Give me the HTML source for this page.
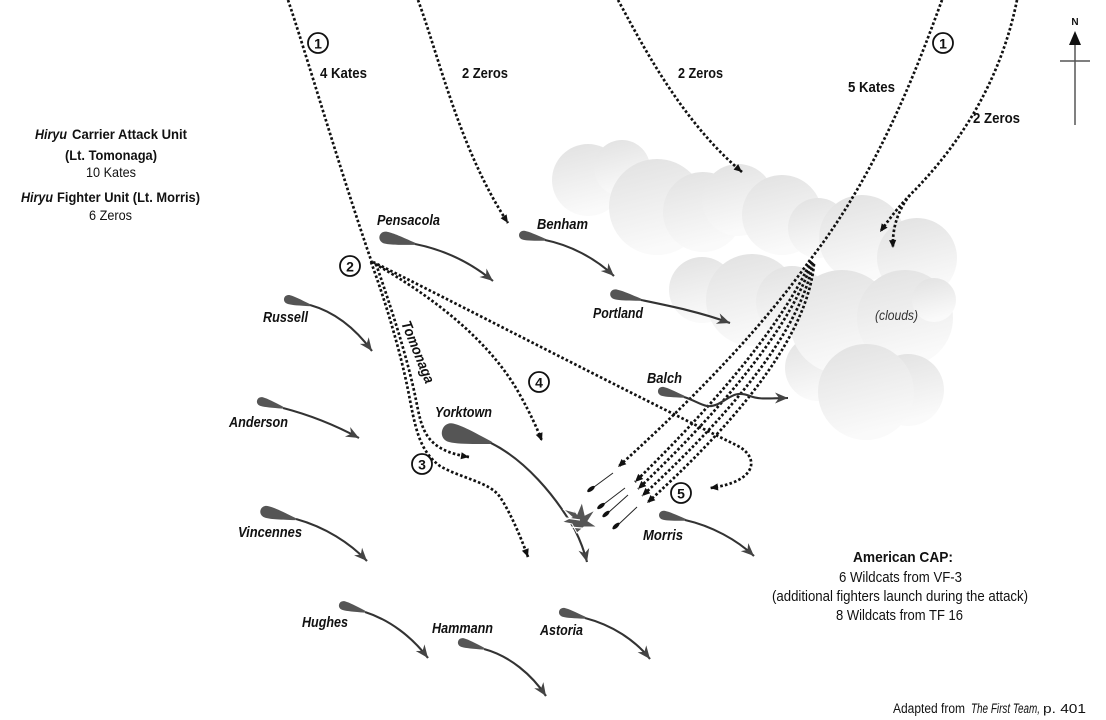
<!DOCTYPE html>
<html><head><meta charset="utf-8"><style>
html,body{margin:0;padding:0;background:#fff;}
svg{display:block;}
text{font-family:"Liberation Sans Narrow","Liberation Sans",sans-serif;fill:#111;}
.b{font-weight:bold;}
.bi{font-weight:bold;font-style:italic;}
.dot{fill:none;stroke:#111;stroke-width:2.7;stroke-dasharray:2.6 2.2;}
.sl{fill:none;stroke:#333;stroke-width:2.1;}
.hull{fill:#555;}
.cl{fill:url(#cg);}
</style></head><body>
<svg width="1106" height="720" viewBox="0 0 1106 720" xmlns="http://www.w3.org/2000/svg">
<defs>
<linearGradient id="cg" x1="0" y1="0" x2="0.25" y2="1"><stop offset="0" stop-color="#e1e1e1"/><stop offset="0.6" stop-color="#f0f0f0"/><stop offset="1" stop-color="#fafafa"/></linearGradient>
<marker id="ad" markerUnits="userSpaceOnUse" markerWidth="10" markerHeight="9" viewBox="-9 -4.5 10 9" refX="0" refY="0" orient="auto"><path d="M0,0 L-8,-3.6 L-8,3.6 Z" fill="#111"/></marker>
<marker id="as" markerUnits="userSpaceOnUse" markerWidth="15" markerHeight="13" viewBox="-14 -6.5 15 13" refX="0" refY="0" orient="auto"><path d="M0,0 L-13,-5.5 L-9,0 L-13,5.5 Z" fill="#444"/></marker>
</defs>

<!-- clouds -->
<g>
<circle class="cl" cx="588" cy="180" r="36"/>
<circle class="cl" cx="622" cy="168" r="28"/>
<circle class="cl" cx="657" cy="207" r="48"/>
<circle class="cl" cx="703" cy="212" r="40"/>
<circle class="cl" cx="738" cy="200" r="36"/>
<circle class="cl" cx="782" cy="215" r="40"/>
<circle class="cl" cx="818" cy="228" r="30"/>
<circle class="cl" cx="702" cy="290" r="33"/>
<circle class="cl" cx="752" cy="300" r="46"/>
<circle class="cl" cx="792" cy="302" r="36"/>
<circle class="cl" cx="862" cy="238" r="43"/>
<circle class="cl" cx="917" cy="258" r="40"/>
<circle class="cl" cx="818" cy="368" r="33"/>
<circle class="cl" cx="842" cy="322" r="52"/>
<circle class="cl" cx="905" cy="318" r="48"/>
<circle class="cl" cx="934" cy="300" r="22"/>
<circle class="cl" cx="908" cy="390" r="36"/>
<circle class="cl" cx="866" cy="392" r="48"/>
</g>

<!-- dotted attack paths -->
<path class="dot" d="M288,0 C305,50 340,170 372,263"/>
<path class="dot" d="M371,262 C385,300 400,350 408,390 C415,425 418,450 440,466 C460,478 490,482 500,497 C510,512 520,535 528,557" marker-end="url(#ad)"/>
<path class="dot" d="M376,264 C392,310 408,360 416,400 C422,430 425,450 469,457" marker-end="url(#ad)"/>
<path class="dot" d="M375,264 C430,295 490,340 520,395 C530,413 537,428 542,441" marker-end="url(#ad)"/>
<path class="dot" d="M373,262 C450,300 600,378 738,446 C760,458 757,482 710,488" marker-end="url(#ad)"/>
<path class="dot" d="M418,0 C440,60 460,150 508,223" marker-end="url(#ad)"/>
<path class="dot" d="M618,0 C640,40 680,120 742,172" marker-end="url(#ad)"/>
<path class="dot" d="M942,0 C920,60 880,170 810,260"/>
<path class="dot" d="M1017,0 C1005,60 975,130 910,195 C900,205 890,218 880,232" marker-end="url(#ad)"/>
<path class="dot" d="M910,195 C898,210 892,228 893,248" marker-end="url(#ad)"/>
<path class="dot" d="M810,260 Q745,352 618,467" marker-end="url(#ad)"/>
<path class="dot" d="M811,261 Q770,350 635,482" marker-end="url(#ad)"/>
<path class="dot" d="M812,262 Q782,352 638,489" marker-end="url(#ad)"/>
<path class="dot" d="M813,263 Q795,355 642,496" marker-end="url(#ad)"/>
<path class="dot" d="M814,264 Q805,360 647,503" marker-end="url(#ad)"/>

<!-- rockets -->
<g stroke="#222" stroke-width="1">
<line x1="613" y1="473" x2="594" y2="487"/>
<line x1="625" y1="488" x2="604" y2="504"/>
<line x1="628" y1="495" x2="609" y2="512"/>
<line x1="637" y1="507" x2="619" y2="524"/>
</g>
<g fill="#111">
<ellipse cx="591" cy="489" rx="4.5" ry="2" transform="rotate(-37 591 489)"/>
<ellipse cx="601" cy="506" rx="4.5" ry="2" transform="rotate(-37 601 506)"/>
<ellipse cx="606" cy="514" rx="4.5" ry="2" transform="rotate(-40 606 514)"/>
<ellipse cx="616" cy="526" rx="4.5" ry="2" transform="rotate(-42 616 526)"/>
</g>

<!-- ships -->
<g>
<path class="hull" transform="translate(378,236) rotate(12)" d="M38,-1 C22.8,-4.2 15.2,-6 8.4,-6 C-0.8,-6 -0.8,6 8.4,6 C15.2,6 22.8,4.2 38,1 Z"/>
<path class="sl" d="M415,244 C445,250 470,262 493,281" marker-end="url(#as)"/>

<path class="hull" transform="translate(518,234) rotate(12)" d="M28,-1 C17,-3.2 11,-4.5 6.2,-4.5 C-0.5,-4.5 -0.5,4.5 6.2,4.5 C11,4.5 17,3.2 28,1 Z"/>
<path class="sl" d="M545,240 C570,245 595,258 614,276" marker-end="url(#as)"/>

<path class="hull" transform="translate(609,293) rotate(12) scale(1.1,1)" d="M30,-1 C18,-3.5 12,-5 6.6,-5 C-0.6,-5 -0.6,5 6.6,5 C12,5 18,3.5 30,1 Z"/>
<path class="sl" d="M641,300 C670,306 700,312 730,323" marker-end="url(#as)"/>

<path class="hull" transform="translate(283,298) rotate(15)" d="M28,-1 C17,-3.2 11,-4.5 6.2,-4.5 C-0.5,-4.5 -0.5,4.5 6.2,4.5 C11,4.5 17,3.2 28,1 Z"/>
<path class="sl" d="M310,305 C335,312 355,328 372,351" marker-end="url(#as)"/>

<path class="hull" transform="translate(256,400) rotate(16)" d="M28,-1 C17,-3.2 11,-4.5 6.2,-4.5 C-0.5,-4.5 -0.5,4.5 6.2,4.5 C11,4.5 17,3.2 28,1 Z"/>
<path class="sl" d="M283,408 C310,415 335,425 359,438" marker-end="url(#as)"/>

<path class="hull" transform="translate(259,510) rotate(14)" d="M38,-1 C22.8,-4.2 15.2,-6 8.4,-6 C-0.8,-6 -0.8,6 8.4,6 C15.2,6 22.8,4.2 38,1 Z"/>
<path class="sl" d="M296,519 C325,527 350,543 367,561" marker-end="url(#as)"/>

<path class="hull" transform="translate(440,430) rotate(14)" d="M53,-1.2 C32,-6.5 21,-9.5 11.7,-9.5 C-1,-9.5 -1,9.5 11.7,9.5 C21,9.5 32,6.5 53,1.2 Z"/>
<path class="sl" d="M491,443 C525,460 555,495 575,530 C580,540 584,550 587,562" marker-end="url(#as)"/>

<path class="hull" transform="translate(657,390) rotate(14)" d="M28,-1 C17,-3.2 11,-4.5 6.2,-4.5 C-0.5,-4.5 -0.5,4.5 6.2,4.5 C11,4.5 17,3.2 28,1 Z"/>
<path class="sl" d="M684,397 C700,402 705,410 718,404 C730,398 735,390 750,396 C760,400 770,398 788,398" marker-end="url(#as)"/>

<path class="hull" transform="translate(658,514) rotate(12)" d="M28,-1 C17,-3.2 11,-4.5 6.2,-4.5 C-0.5,-4.5 -0.5,4.5 6.2,4.5 C11,4.5 17,3.2 28,1 Z"/>
<path class="sl" d="M685,520 C712,526 737,540 754,556" marker-end="url(#as)"/>

<path class="hull" transform="translate(338,604) rotate(16)" d="M28,-1 C17,-3.2 11,-4.5 6.2,-4.5 C-0.5,-4.5 -0.5,4.5 6.2,4.5 C11,4.5 17,3.2 28,1 Z"/>
<path class="sl" d="M365,612 C390,620 412,637 428,658" marker-end="url(#as)"/>

<path class="hull" transform="translate(457,641) rotate(16)" d="M28,-1 C17,-3.2 11,-4.5 6.2,-4.5 C-0.5,-4.5 -0.5,4.5 6.2,4.5 C11,4.5 17,3.2 28,1 Z"/>
<path class="sl" d="M484,649 C510,656 532,675 546,696" marker-end="url(#as)"/>

<path class="hull" transform="translate(558,611) rotate(14)" d="M28,-1 C17,-3.2 11,-4.5 6.2,-4.5 C-0.5,-4.5 -0.5,4.5 6.2,4.5 C11,4.5 17,3.2 28,1 Z"/>
<path class="sl" d="M585,618 C612,625 635,640 650,659" marker-end="url(#as)"/>
</g>

<!-- hit burst -->
<polygon points="569,504 577,514 582,502 585,515 595,510 588,521 597,527 584,527 577,533 572,524 562,522 572,517 563,509 574,512" fill="#555" stroke="#fff" stroke-width="1"/>
<g stroke="#fff" stroke-width="1.2"><line x1="566" y1="518" x2="580" y2="520"/><line x1="570" y1="527" x2="592" y2="529"/></g>

<!-- numbered circles -->
<g fill="#fff" stroke="#111" stroke-width="1.8">
<circle cx="318" cy="43" r="10"/>
<circle cx="943" cy="43" r="10"/>
<circle cx="350" cy="266" r="10"/>
<circle cx="422" cy="464" r="10"/>
<circle cx="539" cy="382" r="10"/>
<circle cx="681" cy="493" r="10"/>
</g>
<g font-size="14" class="b" text-anchor="middle">
<text x="318" y="48.5">1</text>
<text x="943" y="48.5">1</text>
<text x="350" y="271.5">2</text>
<text x="422" y="469.5">3</text>
<text x="539" y="387.5">4</text>
<text x="681" y="498.5">5</text>
</g>

<!-- compass -->
<text x="1075" y="25" font-size="10" class="b" text-anchor="middle">N</text>
<path d="M1075,31 L1069,45 L1081,45 Z" fill="#111"/>
<line x1="1075" y1="45" x2="1075" y2="125" stroke="#555" stroke-width="1.5"/>
<line x1="1060" y1="61" x2="1090" y2="61" stroke="#555" stroke-width="1.5"/>

<!-- top labels -->
<g class="b" font-size="15">
<text x="320" y="78" textLength="47" lengthAdjust="spacingAndGlyphs">4 Kates</text>
<text x="462" y="78" textLength="46" lengthAdjust="spacingAndGlyphs">2 Zeros</text>
<text x="678" y="78" textLength="45" lengthAdjust="spacingAndGlyphs">2 Zeros</text>
<text x="848" y="92" textLength="47" lengthAdjust="spacingAndGlyphs">5 Kates</text>
<text x="973" y="123" textLength="47" lengthAdjust="spacingAndGlyphs">2 Zeros</text>
</g>

<!-- left block -->
<g font-size="14">
<text x="35" y="139" class="bi" textLength="32" lengthAdjust="spacingAndGlyphs">Hiryu</text>
<text x="72" y="139" class="b" textLength="115" lengthAdjust="spacingAndGlyphs">Carrier Attack Unit</text>
<text x="65" y="160" class="b" textLength="92" lengthAdjust="spacingAndGlyphs">(Lt. Tomonaga)</text>
<text x="86" y="177" textLength="50" lengthAdjust="spacingAndGlyphs">10 Kates</text>
<text x="21" y="202" class="bi" textLength="32" lengthAdjust="spacingAndGlyphs">Hiryu</text>
<text x="57" y="202" class="b" textLength="143" lengthAdjust="spacingAndGlyphs">Fighter Unit (Lt. Morris)</text>
<text x="89" y="220" textLength="43" lengthAdjust="spacingAndGlyphs">6 Zeros</text>
</g>

<!-- ship labels -->
<g class="bi" font-size="14.5">
<text x="377" y="225" textLength="63" lengthAdjust="spacingAndGlyphs">Pensacola</text>
<text x="537" y="229" textLength="51" lengthAdjust="spacingAndGlyphs">Benham</text>
<text x="593" y="318" textLength="50" lengthAdjust="spacingAndGlyphs">Portland</text>
<text x="647" y="383" textLength="35" lengthAdjust="spacingAndGlyphs">Balch</text>
<text x="263" y="322" textLength="45" lengthAdjust="spacingAndGlyphs">Russell</text>
<text x="229" y="427" textLength="59" lengthAdjust="spacingAndGlyphs">Anderson</text>
<text x="435" y="417" textLength="57" lengthAdjust="spacingAndGlyphs">Yorktown</text>
<text x="238" y="537" textLength="64" lengthAdjust="spacingAndGlyphs">Vincennes</text>
<text x="643" y="540" textLength="40" lengthAdjust="spacingAndGlyphs">Morris</text>
<text x="302" y="627" textLength="46" lengthAdjust="spacingAndGlyphs">Hughes</text>
<text x="432" y="633" textLength="61" lengthAdjust="spacingAndGlyphs">Hammann</text>
<text x="540" y="635" textLength="43" lengthAdjust="spacingAndGlyphs">Astoria</text>
<text transform="translate(418,352) rotate(68)" x="0" y="5" text-anchor="middle" textLength="66" lengthAdjust="spacingAndGlyphs">Tomonaga</text>
</g>
<text x="875" y="320" font-size="14" font-style="italic" style="fill:#333" textLength="43" lengthAdjust="spacingAndGlyphs">(clouds)</text>

<!-- right block -->
<g font-size="15">
<text x="853" y="562" class="b" textLength="100" lengthAdjust="spacingAndGlyphs">American CAP:</text>
<text x="839" y="582" textLength="123" lengthAdjust="spacingAndGlyphs">6 Wildcats from VF-3</text>
<text x="772" y="601" textLength="256" lengthAdjust="spacingAndGlyphs">(additional fighters launch during the attack)</text>
<text x="836" y="620" textLength="127" lengthAdjust="spacingAndGlyphs">8 Wildcats from TF 16</text>
</g>
<g font-size="13.5">
<text x="893" y="713" textLength="72" lengthAdjust="spacingAndGlyphs">Adapted from</text>
<text x="971" y="713" font-style="italic" textLength="69" lengthAdjust="spacingAndGlyphs">The First Team,</text>
<text x="1043" y="713" style="font-family:'Liberation Sans',sans-serif;font-size:12.5px" textLength="43" lengthAdjust="spacingAndGlyphs">p. 401</text>
</g>
</svg>
</body></html>
